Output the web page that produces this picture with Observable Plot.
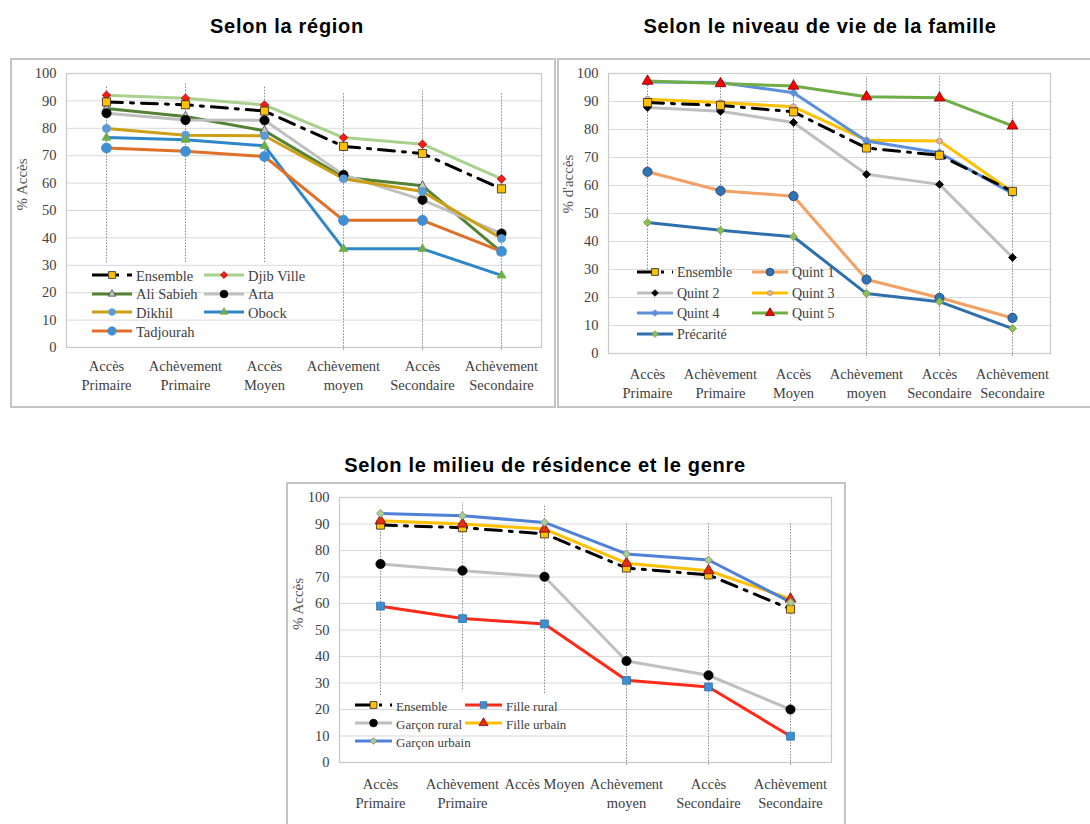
<!DOCTYPE html>
<html><head><meta charset="utf-8">
<script src="https://cdn.jsdelivr.net/npm/d3@7"></script>
<script src="https://cdn.jsdelivr.net/npm/@observablehq/plot@0.6"></script>
<style>
body{margin:0;background:#fff;}
#root{position:relative;width:1090px;height:824px;overflow:hidden;background:#fff;font-family:'Liberation Serif','Times New Roman',serif;}
.title{position:absolute;font-family:'Liberation Sans',Arial,sans-serif;font-weight:bold;font-size:20px;letter-spacing:0.7px;color:#000;transform:translateX(-50%);white-space:nowrap;}
.box{position:absolute;border:2px solid #c4c4c4;box-sizing:border-box;}
.plot{position:absolute;}
.leg{position:absolute;font-family:'Liberation Serif','Times New Roman',serif;color:#404040;white-space:nowrap;line-height:1;}
.leg svg{position:absolute;}
.leg span{position:absolute;font-family:'Liberation Serif','Times New Roman',serif;}
</style>
</head><body><div id="root"></div>
<script>
// ---- data ----
const categories = ["Accès Primaire","Achèvement Primaire","Accès Moyen","Achèvement moyen","Accès Secondaire","Achèvement Secondaire"];
const tickLabelsA = ["Accès\nPrimaire","Achèvement\nPrimaire","Accès\nMoyen","Achèvement\nmoyen","Accès\nSecondaire","Achèvement\nSecondaire"];
const tickLabelsC = ["Accès\nPrimaire","Achèvement\nPrimaire","Accès Moyen","Achèvement\nmoyen","Accès\nSecondaire","Achèvement\nSecondaire"];
const yTicks = [0,10,20,30,40,50,60,70,80,90,100];

const ensemble = [89.6, 88.6, 86.3, 73.4, 70.8, 57.9];

const djibVille = [92.1, 91.0, 88.5, 76.6, 74.2, 61.5];
const aliSabieh = [87.2, 84.3, 79.1, 62.1, 59.0, 34.8];
const arta      = [85.5, 83.0, 82.9, 63.0, 53.9, 41.6];
const dikhil    = [79.9, 77.5, 77.3, 61.6, 56.9, 39.8];
const obock     = [76.6, 75.8, 73.6, 36.0, 36.0, 26.3];
const tadjourah = [72.8, 71.6, 69.7, 46.4, 46.4, 35.1];

const quint1    = [64.9, 58.1, 56.2, 26.4, 19.9, 12.7];
const quint2    = [87.9, 86.5, 82.5, 64.0, 60.4, 34.3];
const quint3    = [90.8, 89.6, 88.1, 76.2, 75.9, 57.7];
const quint4    = [97.0, 96.8, 93.1, 75.9, 71.7, 57.1];
const quint5    = [97.3, 96.4, 95.5, 91.7, 91.3, 81.3];
const precarite = [46.8, 44.0, 41.7, 21.4, 18.5, 8.9];

const filleRural   = [59.0, 54.3, 52.3, 31.0, 28.5, 9.9];
const garconRural  = [74.9, 72.4, 70.1, 38.3, 32.9, 20.0];
const filleUrbain  = [91.2, 90.0, 88.1, 75.2, 72.4, 61.7];
const garconUrbain = [94.0, 93.1, 90.6, 78.7, 76.4, 60.5];

// vertical guide lines (low / high) per category
const guideLowA  = [31, 31, 31, -1, -1, -1];
const guideHighA = [95.6, 96.6, 95.0, 92.7, 93.5, 92.7];
const guideLowB  = [30, 30, 31, -1, -1, -1];
const guideHighB = [97.5, 97.5, 98.5, 98.8, 99.0, 90.0];
const guideLowC  = [25.3, 27.5, 26.0, -1, -1, -1];
const guideHighC = [95.0, 98.0, 97.0, 90.0, 90.0, 90.0];

// ---- styles ----
const ensStyle = {name:"Ensemble", values:ensemble, stroke:"#000", width:3, dash:"16 8 3 8", symbol:"square", r:4.6, fill:"#ffc000", mstroke:"#222"};
const seriesA = [
  {name:"Djib Ville", values:djibVille, stroke:"#a9d18e", width:3, symbol:"diamond2", r:3.8, fill:"#ff1a1a", mstroke:"#a00000"},
  {name:"Ali Sabieh", values:aliSabieh, stroke:"#548235", width:3, symbol:"triangle", r:3.3, fill:"#c8c8c8", mstroke:"#404040"},
  {name:"Arta", values:arta, stroke:"#bfbfbf", width:3, symbol:"circle", r:4.6, fill:"#000", mstroke:"#000"},
  {name:"Dikhil", values:dikhil, stroke:"#cc9f14", width:3, symbol:"circle", r:4, fill:"#5b9bd5", mstroke:"#5b9bd5"},
  {name:"Obock", values:obock, stroke:"#2e87c8", width:3, symbol:"triangle", r:3.3, fill:"#70ad47", mstroke:"#70ad47"},
  {name:"Tadjourah", values:tadjourah, stroke:"#e07028", width:3, symbol:"circle", r:5, fill:"#3f8fd2", mstroke:"#3f8fd2"},
  ensStyle
];
const legendA = ["Ensemble","Djib Ville","Ali Sabieh","Arta","Dikhil","Obock","Tadjourah"];

const seriesB = [
  {name:"Quint 1", values:quint1, stroke:"#f4a062", width:3, symbol:"circle", r:4.6, fill:"#2e75b6", mstroke:"#1f3864"},
  {name:"Quint 2", values:quint2, stroke:"#bfbfbf", width:3, symbol:"diamond2", r:3.6, fill:"#000", mstroke:"#000"},
  {name:"Quint 3", values:quint3, stroke:"#ffc000", width:3, symbol:"circle", r:3, fill:"#f4b183", mstroke:"#999"},
  {name:"Quint 4", values:quint4, stroke:"#5b8fd9", width:3, symbol:"diamond2", r:3.6, fill:"#5b8fd9", mstroke:"#5b8fd9"},
  {name:"Quint 5", values:quint5, stroke:"#70ad47", width:3, symbol:"triangle", r:4, fill:"#ff0000", mstroke:"#7f0000"},
  {name:"Précarité", values:precarite, stroke:"#2e6fae", width:3, symbol:"diamond2", r:3.6, fill:"#8fbc5a", mstroke:"#6a9a3a"},
  ensStyle
];
const legendB = ["Ensemble","Quint 1","Quint 2","Quint 3","Quint 4","Quint 5","Précarité"];

const seriesC = [
  {name:"Fille rural", values:filleRural, stroke:"#ff2a1a", width:3, symbol:"square", r:4.4, fill:"#3d8fd0", mstroke:"#2f6fa8"},
  {name:"Garçon rural", values:garconRural, stroke:"#bfbfbf", width:3, symbol:"circle", r:4.6, fill:"#000", mstroke:"#000"},
  ensStyle,
  {name:"Fille urbain", values:filleUrbain, stroke:"#ffc000", width:3, symbol:"triangle", r:4, fill:"#e03010", mstroke:"#800000"},
  {name:"Garçon urbain", values:garconUrbain, stroke:"#4f81d9", width:3, symbol:"diamond2", r:3.6, fill:"#a9d18e", mstroke:"#7f7f7f"}
];
const legendC = ["Ensemble","Fille rural","Garçon rural","Fille urbain","Garçon urbain"];

const root = document.getElementById("root");

function addDiv(cls, css, html){
  const d = document.createElement("div");
  d.className = cls; Object.assign(d.style, css);
  if (html != null) d.textContent = html;
  root.appendChild(d); return d;
}

function makePlot(cfg){
  const marks = [
    Plot.gridY(yTicks, {stroke:"#d9d9d9", strokeOpacity:1, strokeWidth:1}),
    Plot.frame({stroke:"#c8c8c8", strokeWidth:1.2}),
    Plot.ruleX(categories, {x:d=>d, y1:(d,i)=>cfg.low[i], y2:(d,i)=>cfg.high[i], stroke:"#8a8a8a", strokeWidth:1, strokeDasharray:"1.5 1.5"})
  ];
  for (const s of cfg.series){
    marks.push(Plot.line(s.values, {x:(d,i)=>categories[i], y:d=>d, stroke:s.stroke, strokeWidth:s.width, strokeDasharray:s.dash, strokeLinejoin:"round"}));
  }
  for (const s of cfg.series){
    marks.push(Plot.dot(s.values, {x:(d,i)=>categories[i], y:d=>d, symbol:s.symbol, r:s.r, fill:s.fill, stroke:s.mstroke, strokeWidth:0.8}));
  }
  marks.push(
    Plot.axisY(yTicks, {tickSize:0, tickPadding:10, fontSize:14.5, label:null}),
    Plot.axisX({tickSize:0, tickPadding:cfg.xPad, fontSize:14.5, lineHeight:1.3, label:null,
      tickFormat:d=>cfg.tickLabels[categories.indexOf(d)]}),
    Plot.text([cfg.ylabel], {frameAnchor:"left", dx:cfg.ylabelDx, rotate:-90, fontSize:15, fill:"#595959", text:d=>d})
  );
  const svg = Plot.plot({
    width:cfg.w, height:cfg.h,
    marginLeft:cfg.ml, marginRight:cfg.mr, marginTop:cfg.mt, marginBottom:cfg.mb,
    x:{type:"point", domain:categories, padding:0.5},
    y:{domain:[0,100]},
    style:{fontFamily:"'Liberation Serif', 'Times New Roman', serif", color:"#404040", background:"transparent", overflow:"visible"},
    marks
  });
  const holder = addDiv("plot", {left:cfg.left+"px", top:cfg.top+"px"});
  holder.appendChild(svg);
}

function makeLegend(names, all, cfg){
  names.forEach((n,k)=>{
    const s = all.find(t=>t.name===n);
    const col = k%2, row = Math.floor(k/2);
    const x = col===0 ? cfg.x0 : cfg.x1;
    const y = cfg.y0 + row*cfg.rowH;
    const item = addDiv("leg", {left:x+"px", top:(y-8)+"px", width:"150px", height:"16px", fontSize:cfg.fs+"px"});
    const svg = d3.create("svg").attr("width", cfg.sw).attr("height", 16).style("left","0px").style("top","0px");
    svg.append("line").attr("x1",0).attr("x2",cfg.sw).attr("y1",8).attr("y2",8)
      .attr("stroke", s.stroke).attr("stroke-width", s.width).attr("stroke-dasharray", s.dash || null);
    const symMap = {circle:d3.symbolCircle, square:d3.symbolSquare, triangle:d3.symbolTriangle, diamond2:d3.symbolDiamond2};
    svg.append("path").attr("d", d3.symbol(symMap[s.symbol], Math.PI*s.r*s.r*0.7)())
      .attr("transform", `translate(${cfg.sw/2},8)`).attr("fill", s.fill).attr("stroke", s.mstroke).attr("stroke-width",0.8);
    item.appendChild(svg.node());
    const sp = document.createElement("span");
    sp.textContent = n;
    sp.style.left = (cfg.sw + cfg.gap) + "px"; sp.style.top = (16 - cfg.fs)/2 + 1 + "px";
    item.appendChild(sp);
  });
}

// titles
addDiv("title", {left:"287px", top:"15px"}, "Selon la région");
addDiv("title", {left:"820px", top:"15px"}, "Selon le niveau de vie de la famille");
addDiv("title", {left:"545px", top:"454px"}, "Selon le milieu de résidence et le genre");

// frames
addDiv("box", {left:"10px", top:"58px", width:"546px", height:"350px"});
addDiv("box", {left:"557px", top:"58px", width:"540px", height:"350px"});
addDiv("box", {left:"286px", top:"482px", width:"560px", height:"360px"});

makePlot({series:seriesA, tickLabels:tickLabelsA, low:guideLowA, high:guideHighA, ylabel:"% Accès", ylabelDx:-44,
  left:12, top:60, w:540, h:345, ml:54, mr:11, mt:13, mb:58, xPad:10});
makePlot({series:seriesB, tickLabels:tickLabelsA, low:guideLowB, high:guideHighB, ylabel:"% d'accès", ylabelDx:-40,
  left:559, top:60, w:531, h:345, ml:49, mr:40, mt:13, mb:52, xPad:12});
makePlot({series:seriesC, tickLabels:tickLabelsC, low:guideLowC, high:guideHighC, ylabel:"% Accès", ylabelDx:-41,
  left:288, top:484, w:555, h:340, ml:51, mr:12, mt:13, mb:62, xPad:13});

makeLegend(legendA, seriesA, {x0:92, x1:204, y0:275, rowH:18.7, sw:40, gap:4, fs:14.5});
makeLegend(legendB, seriesB, {x0:637, x1:752, y0:272, rowH:20.5, sw:36, gap:4, fs:14});
makeLegend(legendC, seriesC, {x0:355, x1:465, y0:705, rowH:18, sw:37, gap:4, fs:13});
</script>
</body></html>
